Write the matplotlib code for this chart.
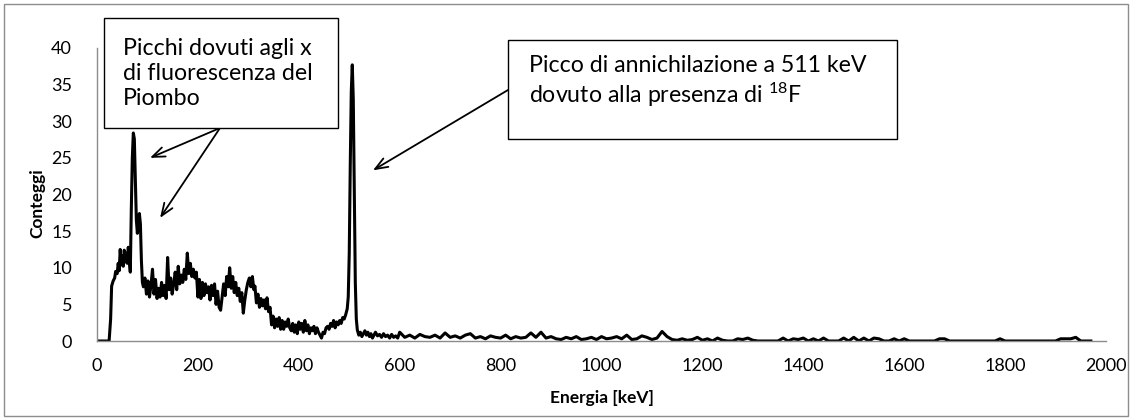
import numpy as np
import matplotlib
matplotlib.use("Agg")
import matplotlib.pyplot as plt
from matplotlib.patches import Rectangle

# Spectrum, low-energy part (keV, counts)
energia_bassa = [
    0, 10, 20, 24, 27, 29, 32, 35, 37, 40, 42, 44, 46, 48, 50, 52, 54, 56, 58, 60,
    62, 64, 66, 68, 70, 72, 74, 76, 78, 80, 82, 84, 86, 88, 90, 92, 95, 98, 101, 104,
    107, 110, 113, 116, 119, 122, 125, 128, 131, 134, 137, 140, 143, 146, 149, 152, 155, 158, 161, 164,
    167, 170, 173, 176, 179, 182, 185, 188, 191, 194, 197, 200, 203, 206, 209, 212, 215, 218, 221, 224,
    227, 230, 233, 236, 239, 242, 245, 248, 251, 254, 257, 260, 263, 266, 269, 272, 275, 278, 281, 284,
    287, 290, 293, 296, 299, 302, 305, 308, 311, 313, 316, 319, 322, 325, 328, 331, 334, 337, 340, 343,
    346, 349, 352, 355, 358, 361, 364, 367, 370, 373, 376, 379, 382, 385, 388, 391, 394, 397, 400, 403,
    406, 409, 412, 415, 418, 421, 424, 427, 430, 433, 436, 439, 442, 445, 448, 451, 454, 457, 460, 463,
    466, 469, 472, 475, 478, 481, 484, 487, 490, 493, 496, 498, 500, 502, 504, 506, 508, 510, 512, 514,
    516, 519, 522, 525, 528, 531, 534, 537, 540, 543, 546, 549, 552, 556, 560, 564, 568, 572, 576, 580,
    584, 588, 592, 596,
]
conteggi_bassi = [
    0.0, 0.0, 0.0, 0.0, 3.0, 7.5, 8.2, 8.6, 9.5, 9.2, 10.6, 9.6, 12.5, 10.4, 11.6, 10.2, 12.4, 10.8, 12.0, 10.6,
    12.8, 11.0, 9.4, 18.0, 25.0, 28.4, 27.6, 22.0, 16.5, 14.7, 16.2, 17.4, 16.0, 11.0, 8.0, 7.4, 8.6, 6.4, 8.2, 6.0,
    7.6, 9.8, 6.4, 8.4, 5.8, 7.2, 6.0, 8.0, 6.2, 7.6, 5.8, 11.4, 7.0, 8.6, 6.4, 7.8, 9.4, 7.0, 10.2, 7.8,
    9.0, 8.0, 9.8, 8.4, 12.0, 9.2, 10.6, 8.8, 9.8, 8.6, 9.4, 6.0, 8.4, 5.8, 8.0, 6.2, 7.8, 6.6, 7.4, 5.6,
    7.6, 6.2, 7.8, 5.0, 6.8, 4.6, 4.2, 6.0, 7.8, 6.2, 8.8, 7.4, 10.0, 7.2, 8.8, 6.6, 8.0, 6.2, 7.2, 5.4,
    6.6, 3.8, 5.6, 7.0, 8.0, 8.6, 7.4, 8.8, 7.0, 7.5, 5.2, 6.4, 4.6, 5.8, 4.8, 5.6, 4.4, 5.9, 4.0, 4.6,
    2.2, 3.4, 1.8, 3.0, 2.0, 3.2, 1.6, 2.8, 1.6, 2.6, 2.0, 3.0, 1.8, 1.4, 2.4, 1.2, 2.2, 1.0, 2.6, 1.6,
    2.4, 1.2, 2.8, 1.4, 2.2, 1.0, 1.8, 1.4, 2.0, 1.0, 1.8, 1.2, 0.8, 0.4, 1.2, 1.0, 1.8, 2.0, 1.6, 2.4,
    2.0, 2.8, 1.8, 2.6, 2.2, 2.8, 2.4, 3.2, 3.0, 3.6, 4.4, 6.0, 12.0, 24.0, 34.0, 37.7, 33.0, 20.0, 8.0, 3.0,
    1.5, 0.8, 1.2, 0.6, 1.0, 1.4, 0.8, 1.2, 0.6, 1.0, 0.4, 0.8, 1.2, 0.7, 0.9, 0.5, 1.0, 0.6, 0.8, 0.4,
    0.9, 0.5, 0.7, 0.4,
]

# Spectrum, high-energy tail: 10 keV bins from 600 keV
energia_coda_inizio = 600
energia_coda_passo = 10
conteggi_coda = [
    1.2, 0.5, 0.8, 0.4, 0.9, 0.6, 0.5, 0.8, 0.4, 1.1,
    0.5, 0.7, 0.4, 0.8, 1.0, 0.4, 0.6, 0.3, 0.7, 0.5,
    0.4, 0.8, 0.3, 0.6, 0.4, 0.5, 1.1, 0.5, 1.2, 0.4,
    0.6, 0.3, 0.2, 0.5, 0.3, 0.6, 0.2, 0.3, 0.5, 0.2,
    0.6, 0.3, 0.4, 0.6, 0.3, 0.8, 0.2, 0.3, 0.7, 0.5,
    0.2, 0.4, 1.3, 0.6, 0.2, 0.1, 0.3, 0.1, 0.2, 0.5,
    0.1, 0.3, 0.0, 0.4, 0.1, 0.0, 0.0, 0.3, 0.2, 0.4,
    0.1, 0.0, 0.0, 0.0, 0.0, 0.0, 0.4, 0.0, 0.3, 0.2,
    0.4, 0.0, 0.3, 0.0, 0.4, 0.0, 0.0, 0.0, 0.4, 0.0,
    0.5, 0.0, 0.4, 0.0, 0.4, 0.3, 0.0, 0.0, 0.3, 0.0,
    0.3, 0.0, 0.0, 0.0, 0.0, 0.0, 0.0, 0.3, 0.3, 0.0,
    0.0, 0.0, 0.0, 0.0, 0.0, 0.0, 0.0, 0.0, 0.0, 0.3,
    0.0, 0.0, 0.0, 0.0, 0.0, 0.0, 0.0, 0.0, 0.0, 0.0,
    0.0, 0.3, 0.3, 0.3, 0.5, 0.0, 0.0, 0.0,
]

x_ticks = [0, 200, 400, 600, 800, 1000, 1200, 1400, 1600, 1800, 2000]
y_ticks = [0, 5, 10, 15, 20, 25, 30, 35, 40]

righe_piombo = ["Picchi dovuti agli x", "di fluorescenza del", "Piombo"]
righe_annichilazione = ["Picco di annichilazione a 511 keV",
                        "dovuto alla presenza di $^{18}$F"]

energia_coda = energia_coda_inizio + energia_coda_passo * np.arange(len(conteggi_coda))
energia = np.concatenate([np.array(energia_bassa, float), energia_coda])
conteggi = np.concatenate([np.array(conteggi_bassi, float), np.array(conteggi_coda, float)])

plt.rcParams["font.family"] = ["Lato", "DejaVu Sans"]
plt.rcParams["mathtext.fontset"] = "custom"
plt.rcParams["mathtext.rm"] = "Lato"
plt.rcParams["mathtext.it"] = "Lato:italic"
plt.rcParams["mathtext.bf"] = "Lato:bold"

W, H = 1132, 420
fig = plt.figure(figsize=(W / 100, H / 100), dpi=100)
renderer = fig.canvas.get_renderer()


def dimensiona(testo, larghezza_px, base=16.0, **kw):
    """Font size giving the requested width in pixels for a line of text."""
    t = fig.text(0, 0, testo, fontsize=base, **kw)
    w = t.get_window_extent(renderer).width
    t.remove()
    return base * larghezza_px / w


# axes: left 97 px, right 1106 px, top 48 px, bottom 341 px (from the top)
ax = fig.add_axes([97 / W, (H - 341) / H, 1009 / W, 293 / H])

ax.plot(energia, conteggi, color="black", lw=2.2, solid_joinstyle="round")
ax.set_xlim(0, 2000)
ax.set_ylim(0, 40)
ax.set_xticks(x_ticks)
ax.set_yticks(y_ticks)
ax.tick_params(length=0, labelsize=13, colors="black")
ax.tick_params(axis="x", pad=12)
ax.tick_params(axis="y", pad=18)
for s in ["top", "right"]:
    ax.spines[s].set_visible(False)
for s in ["left", "bottom"]:
    ax.spines[s].set_color("#8c8c8c")
    ax.spines[s].set_linewidth(1.0)

ax.set_xlabel("Energia [keV]", fontsize=12.5, fontweight="bold")
ax.set_ylabel("Conteggi", fontsize=12.5, fontweight="bold")
ax.xaxis.set_label_coords(0.5, -0.167)
ax.yaxis.set_label_coords(-0.051, 0.47)

# Outer frame of the figure
fig.patches.append(Rectangle((4, 4), W - 8, H - 8, transform=None, fill=False,
                             edgecolor="#8c8c8c", lw=1.0))

fs_box = (dimensiona("Picchi dovuti agli x", 190) + dimensiona("di fluorescenza del", 180)
          + dimensiona("Picco di annichilazione a", 258)) / 3

# Left box: lead x-ray peaks
fig.patches.append(Rectangle((104, H - 128), 234, 110, transform=None, fill=True,
                             facecolor="white", edgecolor="black", lw=1.0, zorder=5))
for riga, y_base in zip(righe_piombo, [55, 80, 105]):
    fig.text(123 / W, (H - y_base) / H, riga, fontsize=fs_box, va="baseline", ha="left", zorder=6)

# Right box: annihilation peak
testi = []
for riga, y_base in zip(righe_annichilazione, [72, 103]):
    testi.append(fig.text(529 / W, (H - y_base) / H, riga, fontsize=fs_box, va="baseline",
                          ha="left", zorder=6))
fine_testo = max(t.get_window_extent(renderer).x1 for t in testi)
destra = fine_testo + 30
fig.patches.append(Rectangle((508, H - 139), destra - 508, 99, transform=None, fill=True,
                             facecolor="white", edgecolor="black", lw=1.0, zorder=5))

freccia = dict(arrowstyle="->,head_length=0.9,head_width=0.35", color="black", lw=1.3,
               shrinkA=0, shrinkB=0)
ax.annotate("", xy=(105, 25.0), xytext=(220, H - 128), xycoords="data",
            textcoords="figure pixels", arrowprops=freccia, annotation_clip=False)
ax.annotate("", xy=(125, 16.8), xytext=(220, H - 128), xycoords="data",
            textcoords="figure pixels", arrowprops=freccia, annotation_clip=False)
ax.annotate("", xy=(547, 23.3), xytext=(508, H - 90), xycoords="data",
            textcoords="figure pixels", arrowprops=freccia, annotation_clip=False)

fig.savefig("out.png", dpi=100)
